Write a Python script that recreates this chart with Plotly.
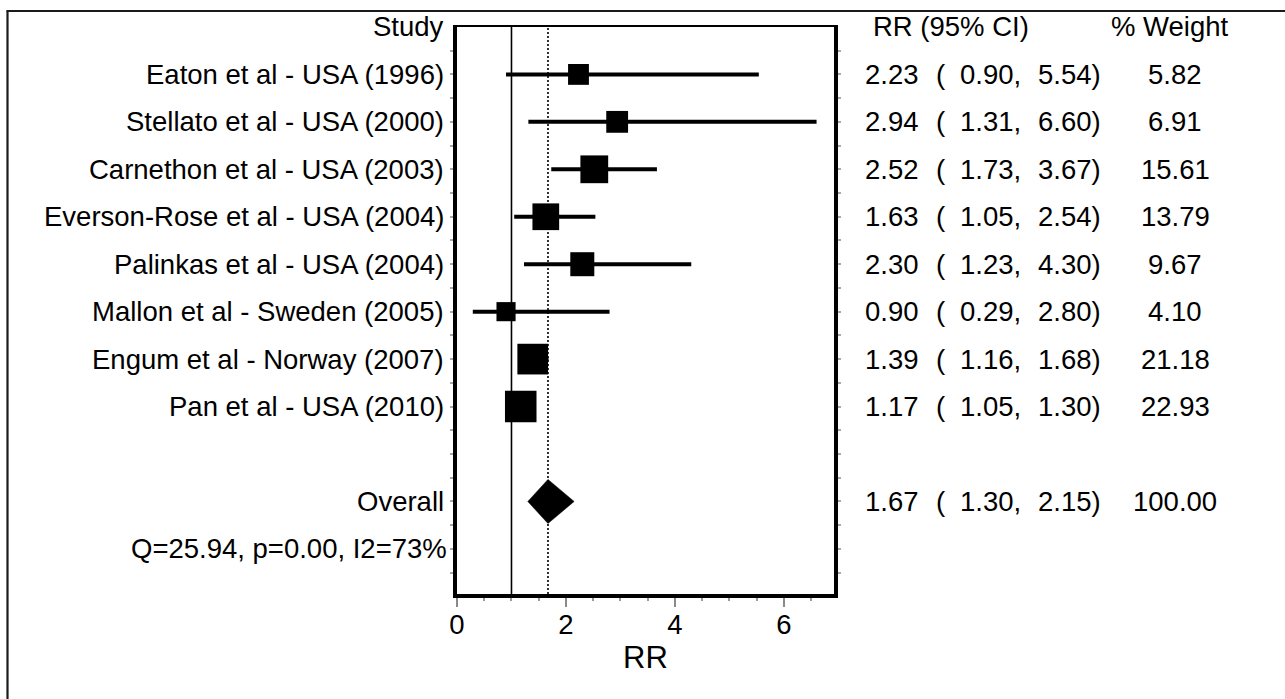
import numpy as np
import plotly.graph_objects as go

# ---------------- data ----------------
studies = [
    "Eaton et al - USA (1996)",
    "Stellato et al - USA (2000)",
    "Carnethon et al - USA (2003)",
    "Everson-Rose et al - USA (2004)",
    "Palinkas et al - USA (2004)",
    "Mallon et al - Sweden (2005)",
    "Engum et al - Norway (2007)",
    "Pan et al - USA (2010)",
]
rr = [2.23, 2.94, 2.52, 1.63, 2.30, 0.90, 1.39, 1.17]
ci_lo = [0.90, 1.31, 1.73, 1.05, 1.23, 0.29, 1.16, 1.05]
ci_hi = [5.54, 6.60, 3.67, 2.54, 4.30, 2.80, 1.68, 1.30]
weights = [5.82, 6.91, 15.61, 13.79, 9.67, 4.10, 21.18, 22.93]
overall_label = "Overall"
overall_rr, overall_lo, overall_hi, overall_w = 1.67, 1.30, 2.15, 100.00
het_text = "Q=25.94, p=0.00, I2=73%"
header_study = "Study"
header_ci = "RR (95% CI)"
header_w = "% Weight"
x_ticks = [0, 2, 4, 6]
x_title = "RR"
null_value = 1

# row positions (top to bottom)
study_rows = list(range(1, len(studies) + 1))
header_row = 0
overall_row = 10
het_row = 11

# ---------------- layout geometry ----------------
W, H = 1285, 699
L, R, T, B = 457, 451, 26, 105
pw = W - L - R
ph = H - T - B


def px(X):
    return (X - L) / pw


def py(Y):
    return (H - B - Y) / ph


FONT = "Arial, Liberation Sans, sans-serif"
FS = 27.5

fig = go.Figure()

# CI lines
xs, ys = [], []
for r, a, b in zip(study_rows, ci_lo, ci_hi):
    xs += [a, b, None]
    ys += [r, r, None]
fig.add_trace(go.Scatter(x=xs, y=ys, mode="lines",
                         line=dict(color="black", width=4),
                         hoverinfo="skip"))

# weight squares
sizes = [10 + 4.5 * np.sqrt(w) for w in weights]
fig.add_trace(go.Scatter(x=rr, y=study_rows, mode="markers",
                         marker=dict(symbol="square", size=sizes, opacity=1,
                                     color="black", line=dict(width=0))))

# overall diamond
hh = 0.465
fig.add_trace(go.Scatter(
    x=[overall_lo, overall_rr, overall_hi, overall_rr, overall_lo],
    y=[overall_row, overall_row - hh, overall_row, overall_row + hh, overall_row],
    mode="lines", fill="toself", fillcolor="black",
    line=dict(color="black", width=0.5)))

shapes = [
    dict(type="line", xref="x", yref="paper", x0=null_value, x1=null_value,
         y0=0, y1=1, line=dict(color="black", width=1.6), layer="below"),
    dict(type="line", xref="x", yref="paper", x0=overall_rr, x1=overall_rr,
         y0=0, y1=1, line=dict(color="black", width=1.6, dash="2px,2px"),
         layer="below"),
    # top border of plot region
    dict(type="line", xref="paper", yref="paper", x0=px(L - 4), x1=px(W - R + 4),
         y0=1, y1=1, line=dict(color="black", width=2)),
    # outer frame (left and top edges visible)
    dict(type="line", xref="paper", yref="paper", x0=px(7.5), x1=px(7.5),
         y0=py(H + 5), y1=py(10.5), line=dict(color="#1a1a1a", width=2.2)),
    dict(type="line", xref="paper", yref="paper", x0=px(6.5), x1=px(W + 5),
         y0=py(11), y1=py(11), line=dict(color="#1a1a1a", width=2.2)),
]

ann = []
txt_font = dict(family=FONT, size=FS, color="black")
left_x = px(446)
# left labels
ann.append(dict(x=left_x, y=header_row, xref="paper", yref="y", text=header_study,
                xanchor="right", yanchor="middle", showarrow=False, font=txt_font))
for s, r in zip(studies, study_rows):
    ann.append(dict(x=left_x, y=r, xref="paper", yref="y", text=s,
                    xanchor="right", yanchor="middle", showarrow=False, font=txt_font))
ann.append(dict(x=left_x, y=overall_row, xref="paper", yref="y", text=overall_label,
                xanchor="right", yanchor="middle", showarrow=False, font=txt_font))
ann.append(dict(x=px(449), y=het_row, xref="paper", yref="y", text=het_text,
                xanchor="right", yanchor="middle", showarrow=False, font=txt_font))

# right columns
ann.append(dict(x=px(871), y=header_row, xref="paper", yref="y", text=header_ci,
                xanchor="left", yanchor="middle", showarrow=False, font=txt_font))
ann.append(dict(x=px(1170), y=header_row, xref="paper", yref="y", text=header_w,
                xanchor="center", yanchor="middle", showarrow=False, font=txt_font))

all_rr = rr + [overall_rr]
all_lo = ci_lo + [overall_lo]
all_hi = ci_hi + [overall_hi]
all_w = weights + [overall_w]
all_rows = study_rows + [overall_row]
for e, a, b, w, r in zip(all_rr, all_lo, all_hi, all_w, all_rows):
    for xx, t in [(863, f"{e:.2f}"), (934, "("), (958, f"{a:.2f},"), (1036, f"{b:.2f})")]:
        ann.append(dict(x=px(xx), y=r, xref="paper", yref="y", text=t,
                        xanchor="left", yanchor="middle", showarrow=False, font=txt_font))
    ann.append(dict(x=px(1175), y=r, xref="paper", yref="y", text=f"{w:.2f}",
                    xanchor="center", yanchor="middle", showarrow=False, font=txt_font))

fig.update_layout(
    width=W, height=H, autosize=False,
    margin=dict(l=L, r=R, t=T, b=B, pad=0),
    paper_bgcolor="white", plot_bgcolor="white",
    showlegend=False,
    shapes=shapes, annotations=ann,
    font=dict(family=FONT, color="black"),
    xaxis=dict(range=[0, 6.92], showline=True, linewidth=4, linecolor="black",
               mirror=False, showgrid=False, zeroline=False,
               ticks="outside", ticklen=9, tickwidth=2, tickcolor="#8a8a8a",
               tickvals=x_ticks, ticktext=[str(v) for v in x_ticks],
               ticklabelstandoff=-6,
               tickfont=dict(family=FONT, size=FS, color="black"),
               minor=dict(dtick=0.5, tick0=0, ticks="outside", ticklen=3,
                          tickwidth=1.5, tickcolor="#9a9a9a"),
               title=dict(text=x_title, font=dict(family=FONT, size=31, color="black"),
                          standoff=4)),
    yaxis=dict(range=[11.95, -0.02], showline=True, linewidth=4, linecolor="black",
               mirror="ticks", showgrid=False, zeroline=False,
               ticks="outside", ticklen=3, tickwidth=1.5, tickcolor="#a8a8a8",
               tickvals=list(np.arange(0.5, 12, 0.5)), showticklabels=False),
)

fig.write_html("out.html")
